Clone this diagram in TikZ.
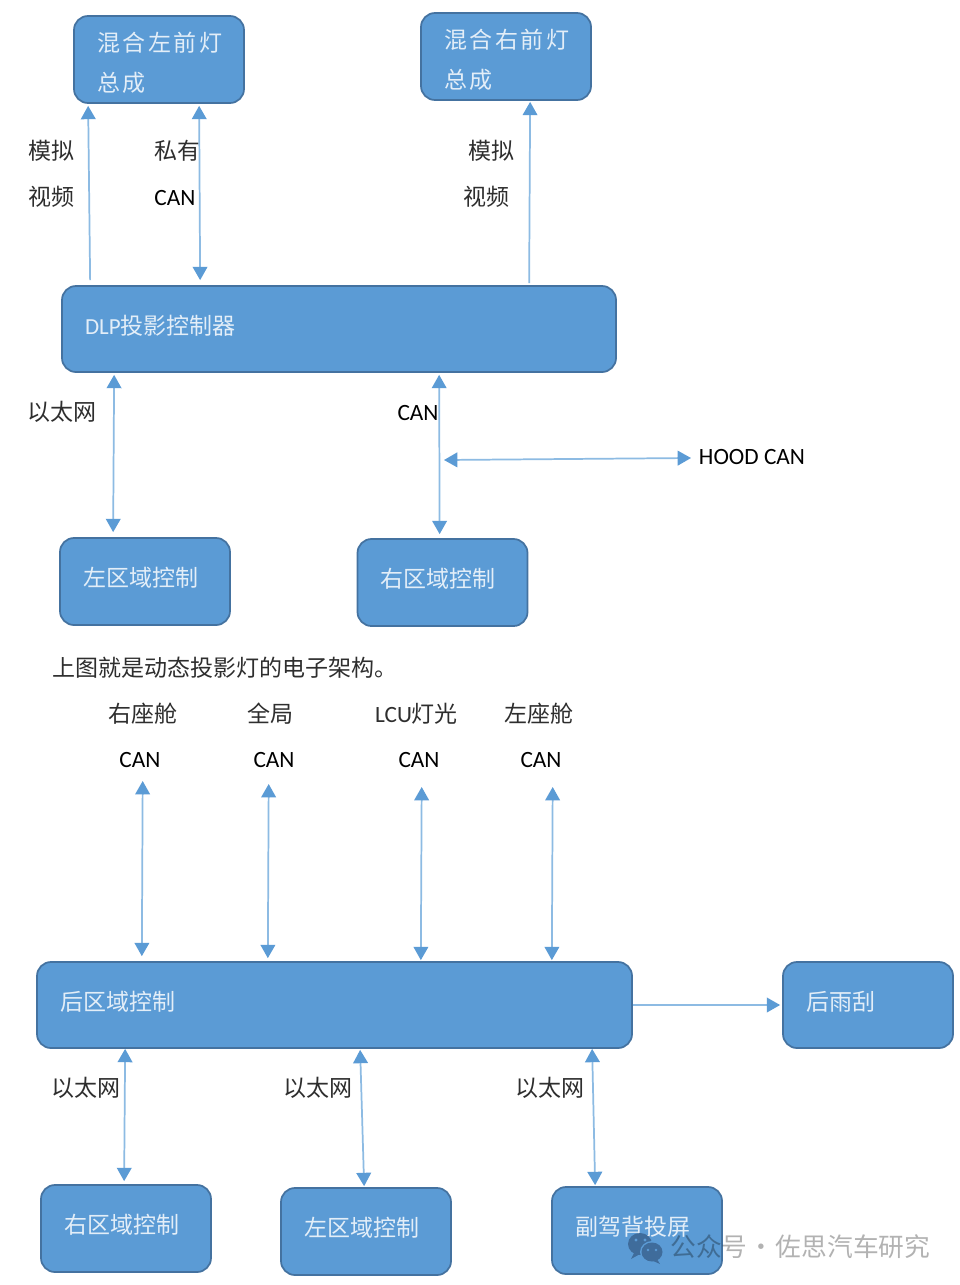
\documentclass[tikz,border=0pt]{standalone}
\usepackage{fontspec}
\setmainfont{Carlito}
\newfontfamily\cjk{Noto Sans CJK SC}
\newfontfamily\cjkwide[LetterSpace=11]{Noto Sans CJK SC}
\usetikzlibrary{arrows.meta}
\definecolor{boxfill}{HTML}{5B9BD5}
\definecolor{boxline}{HTML}{4472A0}
\definecolor{arrowtip}{HTML}{5B9BD5}
\definecolor{arrowline}{HTML}{8DBBE3}
\definecolor{boxtext}{HTML}{E3EEF8}
\definecolor{labeltext}{HTML}{2E2E2E}
\definecolor{iconblue}{HTML}{3F6C9B}
\def\px{0.75pt}
\tikzset{
  x=0.75pt,y=-0.75pt,
  basebox/.style n args={2}{draw=boxline,fill=boxfill,line width=1.3pt,rounded corners=10.5pt,
    minimum width=#1*\px,minimum height=#2*\px,text width=(#1-46)*\px,
    inner xsep=23*\px,inner ysep=0pt,align=left,text=boxtext},
  boxn/.style n args={2}{basebox={#1}{#2},text depth=7pt,
    font=\fontsize{17.25}{30}\selectfont\cjk},
  lampbox/.style={basebox={170}{87},font=\fontsize{17.25}{30}\selectfont\cjkwide},
  lab/.style={text=labeltext,inner sep=0pt,font=\fontsize{17.25}{21}\selectfont\cjk},
  lat/.style={text=black,inner sep=0pt,font=\fontsize{17.5}{21}\selectfont},
  one/.style={draw=arrowline,line width=1.3pt,-{Triangle[length=10pt,width=11pt,color=arrowtip]}},
  two/.style={draw=arrowline,line width=1.3pt,{Triangle[length=10pt,width=11pt,color=arrowtip]}-{Triangle[length=10pt,width=11pt,color=arrowtip]}},
  mark text/.style={inner sep=0pt,text=black,text opacity=0.3,font=\fontsize{19.3}{23}\selectfont\cjk},
}
\begin{document}
\begin{tikzpicture}
\useasboundingbox (0,0) rectangle (960,1285);
\fill[white] (0,0) rectangle (960,1285);

% boxes
\node[lampbox] (lampL) at (159,59.5) {\rule{0pt}{20pt}混合左前灯\\总成};
\node[lampbox] (lampR) at (506,56.5) {\rule{0pt}{20pt}混合右前灯\\总成};
\node[boxn={554}{86}] (dlp) at (339,329) {{\fontsize{17.25}{30}\selectfont\rmfamily DLP}投影控制器};
\node[boxn={170}{87}] (zoneL) at (145,581.5) {左区域控制};
\node[boxn={170}{87}] (zoneR) at (442.5,582.5) {右区域控制};
\node[boxn={595}{86}] (rear) at (334.5,1005) {后区域控制};
\node[boxn={170}{86}] (wiper) at (868,1005) {后雨刮};
\node[boxn={170}{87}] (bR) at (126,1228.5) {右区域控制};
\node[boxn={170}{87}] (bL) at (366,1231.5) {左区域控制};
\node[boxn={170}{87}] (bP) at (637,1230.5) {副驾背投屏};

% labels
\node[lab] (t1) at (51,151) {模拟};
\node[lab] (t2) at (51,197) {视频};
\node[lab] (t3) at (177,151) {私有};
\node[lat] (t4) at (175,198) {CAN};
\node[lab] (t5) at (491,151) {模拟};
\node[lab] (t6) at (486,197) {视频};
\node[lab] (t7) at (62,412) {以太网};
\node[lat] (t8) at (418,413) {CAN};
\node[lat] (hood) at (752,457) {HOOD CAN};
\node[lab,anchor=west] (cap) at (52,668) {上图就是动态投影灯的电子架构。};
\node[lab] (c1) at (143,714) {右座舱};
\node[lat] (c2) at (140,760) {CAN};
\node[lab] (c3) at (270,714) {全局};
\node[lat] (c4) at (274,760) {CAN};
\node[lab] (c5) at (416.5,714) {{\fontsize{17.5}{21}\selectfont\rmfamily LCU}灯光};
\node[lat] (c6) at (419,760) {CAN};
\node[lab] (c7) at (539,714) {左座舱};
\node[lat] (c8) at (541,760) {CAN};
\node[lab] (e1) at (86,1088) {以太网};
\node[lab] (e2) at (318,1088) {以太网};
\node[lab] (e3) at (550,1088) {以太网};

% free ends
\coordinate (hoodL) at (444,460);
\coordinate (hoodR) at (691,458);
\coordinate (f1) at (142.7,781);
\coordinate (f2) at (268.7,784);
\coordinate (f3) at (421.7,787);
\coordinate (f4) at (552.7,787);

% connectors
\draw[one] ([xshift=29*\px,yshift=5*\px]dlp.north west) -- ([xshift=15*\px,yshift=-2*\px]lampL.south west);
\draw[two] ([xshift=126*\px,yshift=-2*\px]lampL.south west) -- ([xshift=139*\px,yshift=5*\px]dlp.north west);
\draw[one] ([xshift=468*\px,yshift=2*\px]dlp.north west) -- ([xshift=110*\px,yshift=-1*\px]lampR.south west);
\draw[two] ([xshift=53*\px,yshift=-2*\px]dlp.south west) -- ([xshift=54*\px,yshift=5*\px]zoneL.north west);
\draw[two] ([xshift=378*\px,yshift=-2*\px]dlp.south west) -- ([xshift=83*\px,yshift=4*\px]zoneR.north west);
\draw[two] (hoodL) -- (hoodR);
\draw[two] (f1) -- ([xshift=105.7*\px,yshift=5*\px]rear.north west);
\draw[two] (f2) -- ([xshift=231.7*\px,yshift=3*\px]rear.north west);
\draw[two] (f3) -- ([xshift=384.7*\px,yshift=1*\px]rear.north west);
\draw[two] (f4) -- ([xshift=515.7*\px,yshift=1*\px]rear.north west);
\draw[one] (rear.east) -- ([xshift=-2*\px]wiper.west);
\draw[two] ([xshift=89*\px]rear.south west) -- ([xshift=84*\px,yshift=3*\px]bR.north west);
\draw[two] ([xshift=324*\px,yshift=-1*\px]rear.south west) -- ([xshift=84*\px,yshift=1*\px]bL.north west);
\draw[two] ([xshift=556*\px]rear.south west) -- ([xshift=44*\px,yshift=1*\px]bP.north west);

% watermark
\fill[iconblue] (640,1244) ellipse (12 and 11);
\fill[iconblue] (634,1253) -- (631,1259) -- (640,1254) -- cycle;
\fill[boxfill] (652,1252) ellipse (12 and 11);
\fill[iconblue] (652,1252) ellipse (10.5 and 9.5);
\fill[iconblue] (657,1259) -- (660,1264) -- (651,1260) -- cycle;
\fill[boxfill] (636,1240) circle (1.6) (645,1240) circle (1.6) (648,1250) circle (1.3) (656,1250) circle (1.3);
\node[mark text,anchor=west] (wm) at (670,1247) {公众号\hspace{1pt}·\hspace{1pt}佐思汽车研究};
\end{tikzpicture}
\end{document}
